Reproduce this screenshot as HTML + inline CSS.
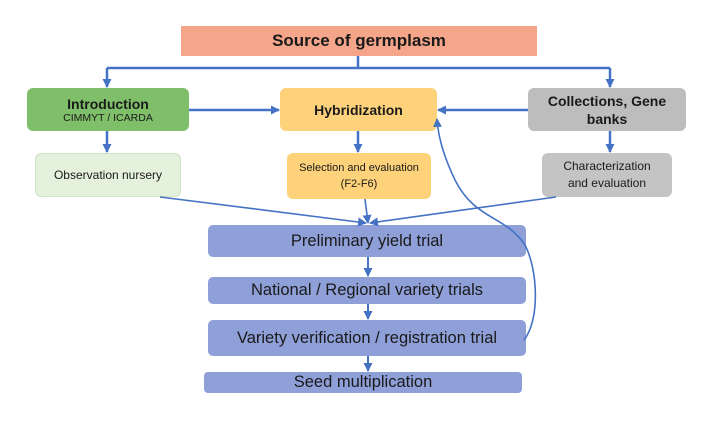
<!DOCTYPE html>
<html><head><style>
body{margin:0;background:#fff;width:717px;height:422px;position:relative;font-family:"Liberation Sans",sans-serif;overflow:hidden}
.b{position:absolute;display:flex;align-items:center;justify-content:center;text-align:center;box-sizing:border-box;color:#1a1a1a}
</style></head><body>
<div class="b" style="left:181px;top:26px;width:356px;height:30px;background:#f4a58a;font-weight:bold;font-size:17px">Source of germplasm</div>
<div class="b" style="left:27px;top:88px;width:162px;height:43px;background:#7fbf6a;border-radius:6px;flex-direction:column"><b style="font-size:14px">Introduction</b><span style="font-size:10.5px">CIMMYT / ICARDA</span></div>
<div class="b" style="left:280px;top:88px;width:157px;height:43px;background:#fdd27a;border-radius:6px;font-weight:bold;font-size:14px">Hybridization</div>
<div class="b" style="left:528px;top:88px;width:158px;height:43px;background:#bdbdbd;border-radius:6px;font-weight:bold;font-size:14px;line-height:18px">Collections, Gene<br>banks</div>
<div class="b" style="left:35px;top:153px;width:146px;height:44px;background:#e4f1dc;border:1px solid #cfe3c5;border-radius:6px;font-size:12px">Observation nursery</div>
<div class="b" style="left:287px;top:153px;width:144px;height:46px;background:#fdd27a;border-radius:6px;font-size:11px;line-height:16px">Selection and evaluation<br>(F2-F6)</div>
<div class="b" style="left:542px;top:153px;width:130px;height:44px;background:#c4c4c4;border-radius:6px;font-size:12px;line-height:17px">Characterization<br>and evaluation</div>
<div class="b" style="left:208px;top:225px;width:318px;height:32px;background:#8f9fd8;border-radius:5px;font-size:16.5px">Preliminary yield trial</div>
<div class="b" style="left:208px;top:277px;width:318px;height:27px;background:#8f9fd8;border-radius:5px;font-size:16.5px">National / Regional variety trials</div>
<div class="b" style="left:208px;top:320px;width:318px;height:36px;background:#8f9fd8;border-radius:5px;font-size:16.5px">Variety verification / registration trial</div>
<div class="b" style="left:204px;top:372px;width:318px;height:21px;background:#8f9fd8;border-radius:4px;font-size:16.5px">Seed multiplication</div>
<svg width="717" height="422" style="position:absolute;left:0;top:0">
<defs><marker id="a" markerUnits="userSpaceOnUse" markerWidth="9" markerHeight="9" refX="8" refY="4.5" orient="auto"><path d="M0,0L9,4.5L0,9z" fill="#4472c4"/></marker></defs>
<g stroke="#4472c4" stroke-width="2.5" fill="none">
<path d="M358 56V68M107 68H610"/>
<path d="M107 68V87" marker-end="url(#a)"/>
<path d="M610 68V87" marker-end="url(#a)"/>
<path d="M189 110H279" marker-end="url(#a)"/>
<path d="M528 110H438" marker-end="url(#a)"/>
<path d="M107 131V152" marker-end="url(#a)"/>
<path d="M358 131V152" marker-end="url(#a)"/>
<path d="M610 131V152" marker-end="url(#a)"/>
<path d="M368 257V276" stroke-width="2" marker-end="url(#a)"/>
<path d="M368 304V319" stroke-width="2" marker-end="url(#a)"/>
<path d="M368 356V371" stroke-width="2" marker-end="url(#a)"/>
</g>
<g stroke="#4472c4" stroke-width="1.6" fill="none">
<path d="M160 197L366 223" marker-end="url(#a)"/>
<path d="M365 199L368 223" marker-end="url(#a)"/>
<path d="M556 197L370 223" marker-end="url(#a)"/>
<path d="M524 340C540 320 538 270 525 245C505 215 475 220 455 180C443 155 438 135 437 119" marker-end="url(#a)"/>
</g>
</svg>
</body></html>
